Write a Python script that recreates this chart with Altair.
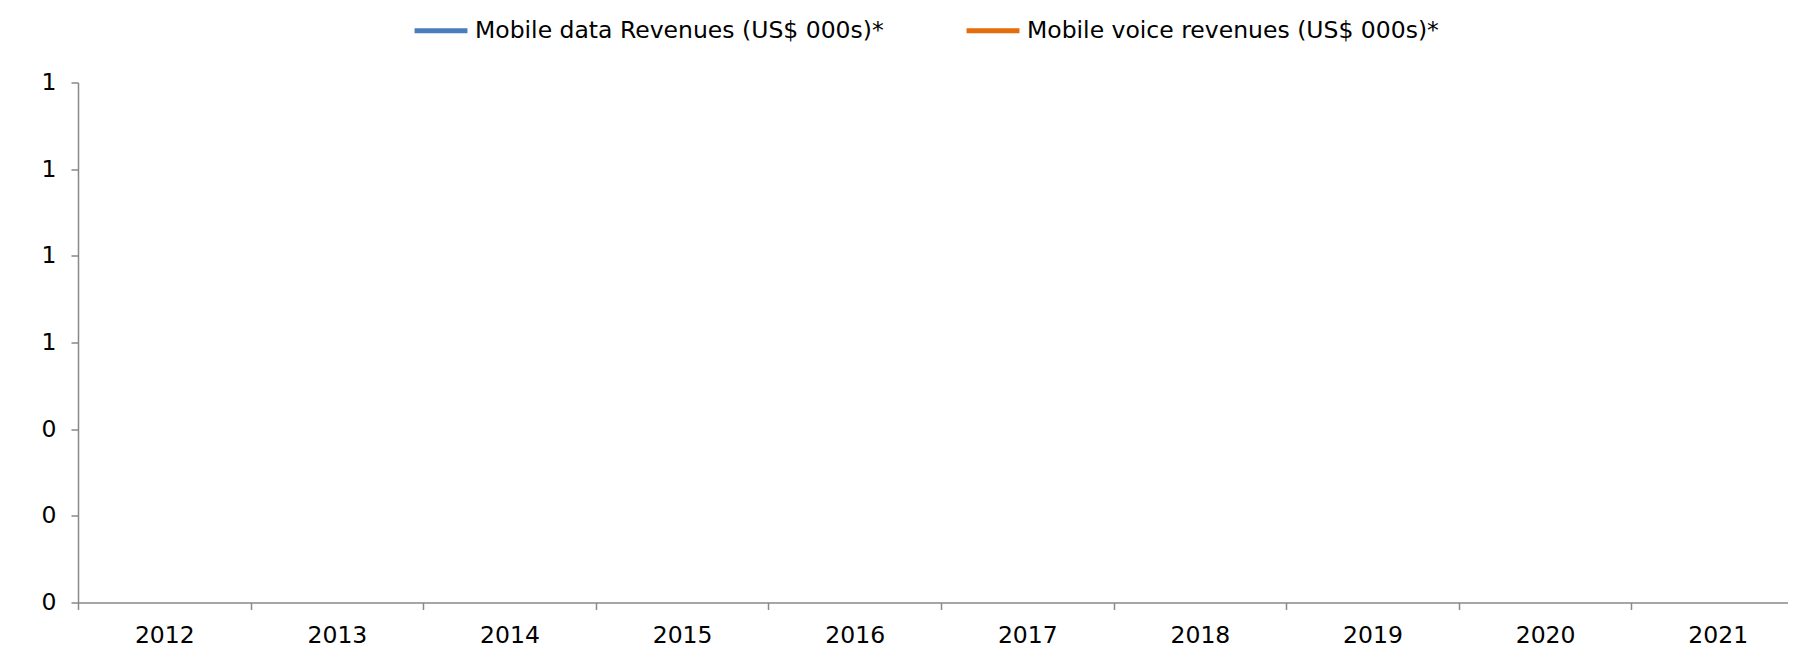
import altair as alt
import pandas as pd

years = ["2012", "2013", "2014", "2015", "2016", "2017", "2018", "2019", "2020", "2021"]
series_names = ["Mobile data Revenues (US$ 000s)*", "Mobile voice revenues (US$ 000s)*"]
data_revenues = [None, None, None, None, None, None, None, None, None, None]
voice_revenues = [None, None, None, None, None, None, None, None, None, None]
y_ticks = [0, 0.2, 0.4, 0.6, 0.8, 1.0, 1.2]
colors = ["#4a7ebb", "#e46c0a"]

rows = []
for name, vals in zip(series_names, [data_revenues, voice_revenues]):
    for yr, v in zip(years, vals):
        rows.append({"Year": yr, "Series": name, "Value": v})
df = pd.DataFrame(rows)

FONT = "DejaVu Sans"
FS = 23.5
AX = "#898989"

chart = alt.Chart(df).mark_line(strokeWidth=3).encode(
    x=alt.X("Year:N",
            scale=alt.Scale(type="band", domain=years, paddingInner=0, paddingOuter=0),
            axis=alt.Axis(title=None, labelAngle=0, tickBand="extent", tickSize=7,
                          labelPadding=14, grid=False)),
    y=alt.Y("Value:Q",
            scale=alt.Scale(domain=[0, 1.2], nice=False, zero=True),
            axis=alt.Axis(title=None, values=y_ticks, format=".0f", tickSize=7,
                          labelPadding=15, grid=False)),
    color=alt.Color("Series:N",
                    scale=alt.Scale(domain=series_names, range=colors),
                    legend=alt.Legend(title=None, orient="none", direction="horizontal",
                                      legendX=334, legendY=-81,
                                      symbolType="stroke", symbolSize=2800,
                                      symbolStrokeWidth=5, labelOffset=5,
                                      columnPadding=72, padding=0,
                                      labelFont=FONT, labelFontSize=FS,
                                      labelColor="#000000", labelLimit=0)),
).properties(
    width=1726,
    height=520,
    autosize=alt.AutoSizeParams(type="none"),
    padding={"left": 70, "top": 74.5, "right": -16, "bottom": 50},
).configure_view(
    stroke=None
).configure_axis(
    domainColor=AX,
    tickColor=AX,
    domainWidth=1.5,
    tickWidth=1.5,
    labelFont=FONT,
    labelFontSize=FS,
    labelColor="#000000",
)

chart.save("out.html", embed_options={"renderer": "svg", "actions": False})
